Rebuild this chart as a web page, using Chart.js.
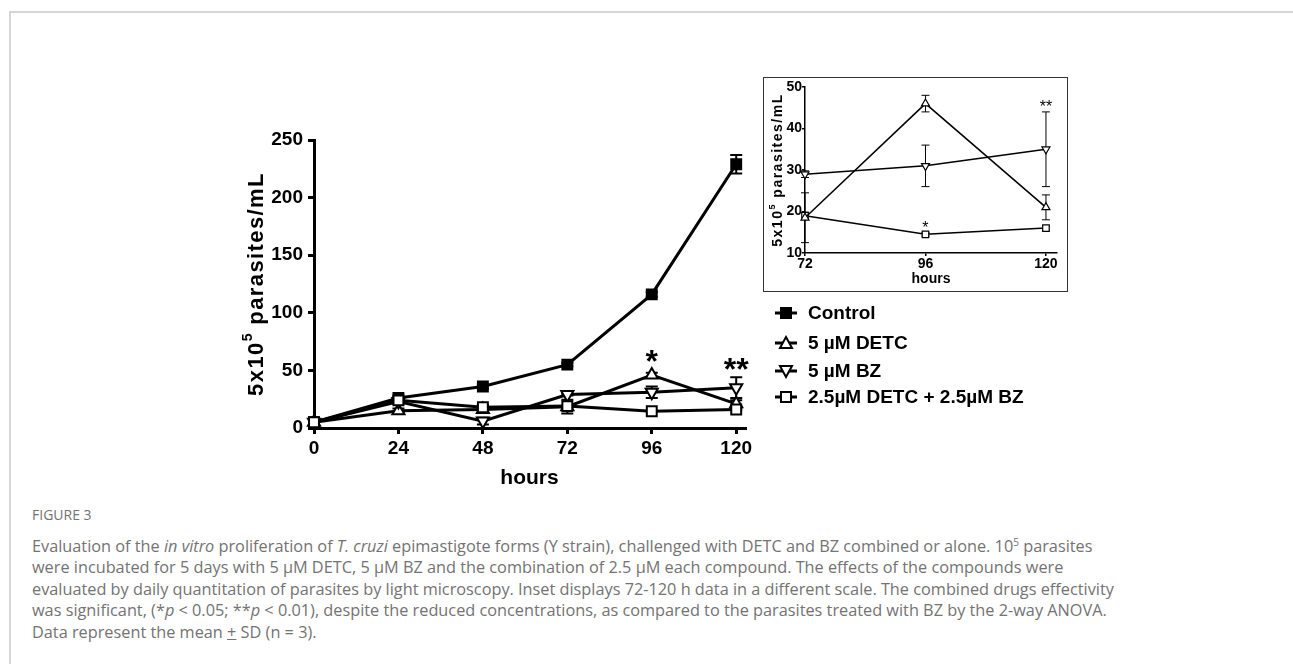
<!DOCTYPE html>
<html>
<head>
<meta charset="utf-8">
<script src="https://cdn.jsdelivr.net/npm/chart.js@4.4.1/dist/chart.umd.min.js"></script>
<style>
  body { margin: 0; width: 1293px; height: 664px; overflow: hidden; position: relative; background: #fff; font-family: 'Liberation Sans', Arial, sans-serif; }
  #frame { position: absolute; left: 9px; top: 11px; right: 0; bottom: 0; border-left: 2px solid #d6d6d6; border-top: 2px solid #d6d6d6; }
  #main { position: absolute; left: 200px; top: 110px; width: 580px; height: 395px; }
  #insetBox { position: absolute; left: 763px; top: 77px; width: 303px; height: 213px; border: 1.5px solid #333; }
  #inset { position: absolute; left: 0; top: 0; width: 303px; height: 213px; }
  .leg { position: absolute; left: 775px; height: 22px; display: flex; align-items: center; font-weight: bold; font-size: 19px; color: #000; white-space: nowrap; }
  .leg svg { margin-right: 11px; }
  #caption { position: absolute; left: 32px; top: 505px; font-family: 'Open Sans', Lato, sans-serif; color: #737373; }
  #caption .fig { font-size: 14px; line-height: 20px; }
  #caption .ln { font-size: 16.3px; line-height: 21.4px; white-space: nowrap; }
</style>
</head>
<body>
<div id="frame"></div>
<div id="main"><canvas id="mainChart"></canvas></div>
<div id="insetBox"><div id="inset"><canvas id="insetChart"></canvas></div></div>
<div id="legend"></div>
<div id="caption">
  <div class="fig">FIGURE 3</div>
  <div class="ln" style="margin-top:11px">Evaluation of the <i>in vitro</i> proliferation of <i>T. cruzi</i> epimastigote forms (Y strain), challenged with DETC and BZ combined or alone. 10<sup style="font-size:10px;line-height:0">5</sup> parasites</div>
  <div class="ln">were incubated for 5 days with 5 μM DETC, 5 μM BZ and the combination of 2.5 μM each compound. The effects of the compounds were</div>
  <div class="ln">evaluated by daily quantitation of parasites by light microscopy. Inset displays 72-120 h data in a different scale. The combined drugs effectivity</div>
  <div class="ln">was significant, (*<i>p</i> &lt; 0.05; **<i>p</i> &lt; 0.01), despite the reduced concentrations, as compared to the parasites treated with BZ by the 2-way ANOVA.</div>
  <div class="ln">Data represent the mean <u>+</u> SD (n = 3).</div>
</div>
<script>
const hours = [0, 24, 48, 72, 96, 120];
const seriesNames = ['Control', '5 µM DETC', '5 µM BZ', '2.5µM DETC + 2.5µM BZ'];
const control   = [5, 26, 36, 55, 116, 229];
const controlSd = [1, 1.5, 1.5, 1.5, 2, 8];
const detc      = [5, 15, 16, 18.5, 46, 21];
const detcSd    = [0.5, 2, 2, 6, 2, 3];
const bz        = [5, 23, 6, 29, 31, 35];
const bzSd      = [0.5, 2, 3, 0.8, 5, 9];
const combo     = [5, 24, 18, 19, 14.5, 16];
const comboSd   = [0.5, 1.5, 2, 0.8, 0.4, 0.5];
const mainTicksY = [0, 50, 100, 150, 200, 250];
const insetFrom = 3; // inset shows 72-120 h
const insetTicksY = [10, 20, 30, 40, 50];
// y title pieces: text before superscript, superscript, text after
const yTitle = ['5x10', '5', ' parasites/mL'];
// significance marks: [series index, hour, text]
const sigMain  = [[1, 96, '*'], [2, 120, '**']];
const sigInset = [[3, 96, '*'], [2, 120, '**']];

const FONT = "'Liberation Sans', Arial, sans-serif";
const styles = [
  { pointStyle: 'rect', rotation: 0, fill: '#000' },
  { pointStyle: 'triangle', rotation: 0, fill: '#fff' },
  { pointStyle: 'triangle', rotation: 180, fill: '#fff' },
  { pointStyle: 'rect', rotation: 0, fill: '#fff' }
];

function makeSet(i, vals, sd, from, big) {
  const st = styles[i];
  return {
    label: seriesNames[i],
    data: hours.slice(from).map((h, k) => ({ x: h, y: vals[from + k] })),
    sd: sd.slice(from),
    borderColor: '#000',
    borderWidth: big ? 3 : 1.5,
    pointStyle: st.pointStyle,
    rotation: st.rotation,
    pointRadius: big ? 7 : 4.6,
    pointBorderWidth: big ? 2 : 1.2,
    pointBackgroundColor: st.fill,
    pointBorderColor: '#000',
    tension: 0,
    clip: false
  };
}

const errorBars = {
  id: 'errorBars',
  beforeDatasetsDraw(chart, args, o) {
    const { ctx, scales: { x, y } } = chart;
    ctx.save();
    ctx.strokeStyle = '#000';
    ctx.lineWidth = o.width;
    chart.data.datasets.forEach(ds => {
      ds.data.forEach((p, j) => {
        const s = ds.sd[j];
        if (!s) return;
        const px = x.getPixelForValue(p.x);
        const t = y.getPixelForValue(p.y + s), b = y.getPixelForValue(p.y - s);
        ctx.beginPath();
        ctx.moveTo(px, t); ctx.lineTo(px, b);
        ctx.moveTo(px - o.cap, t); ctx.lineTo(px + o.cap, t);
        ctx.moveTo(px - o.cap, b); ctx.lineTo(px + o.cap, b);
        ctx.stroke();
      });
    });
    ctx.restore();
  },
  afterDatasetsDraw(chart, args, o) {
    const { ctx, scales: { x, y } } = chart;
    ctx.save();
    ctx.fillStyle = '#000';
    ctx.font = o.font;
    ctx.textAlign = 'center';
    ctx.textBaseline = 'middle';
    o.marks.forEach(([si, h, txt], k) => {
      const ds = chart.data.datasets.find(d => d.label === seriesNames[si]);
      const j = ds.data.findIndex(p => p.x === h);
      const top = y.getPixelForValue(ds.data[j].y + ds.sd[j]);
      ctx.fillText(txt, x.getPixelForValue(h), top - o.lift[k]);
    });
    ctx.restore();
  }
};

// rotated y title with a real superscript
const supTitle = {
  id: 'supTitle',
  afterDraw(chart, args, o) {
    const { ctx, chartArea } = chart;
    const y = chart.scales.y;
    const big = `bold ${o.size}px ${FONT}`, small = `bold ${Math.round(o.size * 0.62)}px ${FONT}`;
    ctx.save();
    if ('letterSpacing' in ctx) ctx.letterSpacing = o.spacing + 'px';
    const parts = [[yTitle[0], big, 0], [yTitle[1], small, -o.size * 0.38], [yTitle[2], big, 0]];
    const widths = parts.map(p => { ctx.font = p[1]; return ctx.measureText(p[0]).width; });
    const total = widths.reduce((a, b) => a + b, 0);
    ctx.translate(y.left + o.x, (chartArea.top + chartArea.bottom) / 2);
    ctx.rotate(-Math.PI / 2);
    ctx.fillStyle = '#000';
    ctx.textBaseline = 'middle';
    ctx.textAlign = 'left';
    let cx = -total / 2;
    parts.forEach((p, k) => {
      ctx.font = p[1];
      ctx.fillText(p[0], cx, p[2]);
      cx += widths[k];
    });
    ctx.restore();
  }
};

function axis(o) {
  return {
    type: 'linear',
    min: o.min, max: o.max,
    afterFit: s => { if (o.w) s.width = o.w; if (o.h) s.height = o.h; },
    afterBuildTicks: s => { s.ticks = o.ticks.map(v => ({ value: v })); },
    border: { display: true, color: '#000', width: o.lw },
    grid: { drawOnChartArea: false, drawTicks: true, tickLength: o.tl, color: '#000', lineWidth: o.lw },
    ticks: { color: '#000', padding: o.pad, font: { family: FONT, size: o.fs, weight: 'bold' } },
    title: { display: !!o.title, text: o.title, color: '#000', padding: o.tpad, font: { family: FONT, size: o.tfs, weight: 'bold' } }
  };
}

Chart.defaults.animation = false;
Chart.defaults.font.family = FONT;

new Chart(document.getElementById('mainChart'), {
  type: 'line',
  data: {
    datasets: [
      makeSet(0, control, controlSd, 0, true),
      makeSet(1, detc, detcSd, 0, true),
      makeSet(2, bz, bzSd, 0, true),
      makeSet(3, combo, comboSd, 0, true)
    ].reverse()
  },
  options: {
    responsive: true,
    maintainAspectRatio: false,
    layout: { padding: { left: 0, top: 30, right: 35, bottom: 0 } },
    plugins: {
      legend: { display: false },
      tooltip: { enabled: false },
      errorBars: { width: 2, cap: 6, font: `bold 32px ${FONT}`, marks: sigMain, lift: [10, 6] },
      supTitle: { size: 22, spacing: 1.4, x: 57 }
    },
    scales: {
      x: axis({ min: 0, max: 122.5, ticks: hours, h: 77, lw: 3, tl: 6, pad: 3, fs: 19, title: 'hours', tfs: 21, tpad: { top: 4, bottom: 14 } }),
      y: axis({ min: 0, max: 250, ticks: mainTicksY, w: 114, lw: 3, tl: 6, pad: 5, fs: 19 })
    }
  },
  plugins: [errorBars, supTitle]
});

new Chart(document.getElementById('insetChart'), {
  type: 'line',
  data: {
    datasets: [
      makeSet(1, detc, detcSd, insetFrom, false),
      makeSet(2, bz, bzSd, insetFrom, false),
      makeSet(3, combo, comboSd, insetFrom, false)
    ]
  },
  options: {
    responsive: true,
    maintainAspectRatio: false,
    layout: { padding: { left: 0, top: 9, right: 10, bottom: 0 } },
    plugins: {
      legend: { display: false },
      tooltip: { enabled: false },
      errorBars: { width: 1, cap: 4, font: `16px ${FONT}`, marks: sigInset, lift: [4, 4] },
      supTitle: { size: 14, spacing: 1.5, x: 14 }
    },
    scales: {
      x: axis({ min: 72, max: 122.2, ticks: hours.slice(insetFrom), h: 38, lw: 1.5, tl: 3, pad: 0, fs: 14, title: 'hours', tfs: 14, tpad: { top: 0, bottom: 3 } }),
      y: axis({ min: 10, max: 50, ticks: insetTicksY, w: 41, lw: 1.5, tl: 3, pad: 0, fs: 14 })
    }
  },
  plugins: [errorBars, supTitle]
});

// legend
const legendTops = [302, 332, 360, 386];
const legend = document.getElementById('legend');
seriesNames.forEach((name, i) => {
  const st = styles[i];
  let mark;
  if (st.pointStyle === 'rect') mark = `<rect x="6" y="3" width="10" height="10" fill="${st.fill}" stroke="#000" stroke-width="2"/>`;
  else if (st.rotation === 0) mark = `<polygon points="11,2 17,13 5,13" fill="#fff" stroke="#000" stroke-width="2"/>`;
  else mark = `<polygon points="11,14 17,3 5,3" fill="#fff" stroke="#000" stroke-width="2"/>`;
  const row = document.createElement('div');
  row.className = 'leg';
  row.style.top = legendTops[i] + 'px';
  row.innerHTML = `<svg width="22" height="16" viewBox="0 0 22 16"><line x1="0" y1="8" x2="22" y2="8" stroke="#000" stroke-width="3"/>${mark}</svg>${name}`;
  legend.appendChild(row);
});
</script>
</body>
</html>
